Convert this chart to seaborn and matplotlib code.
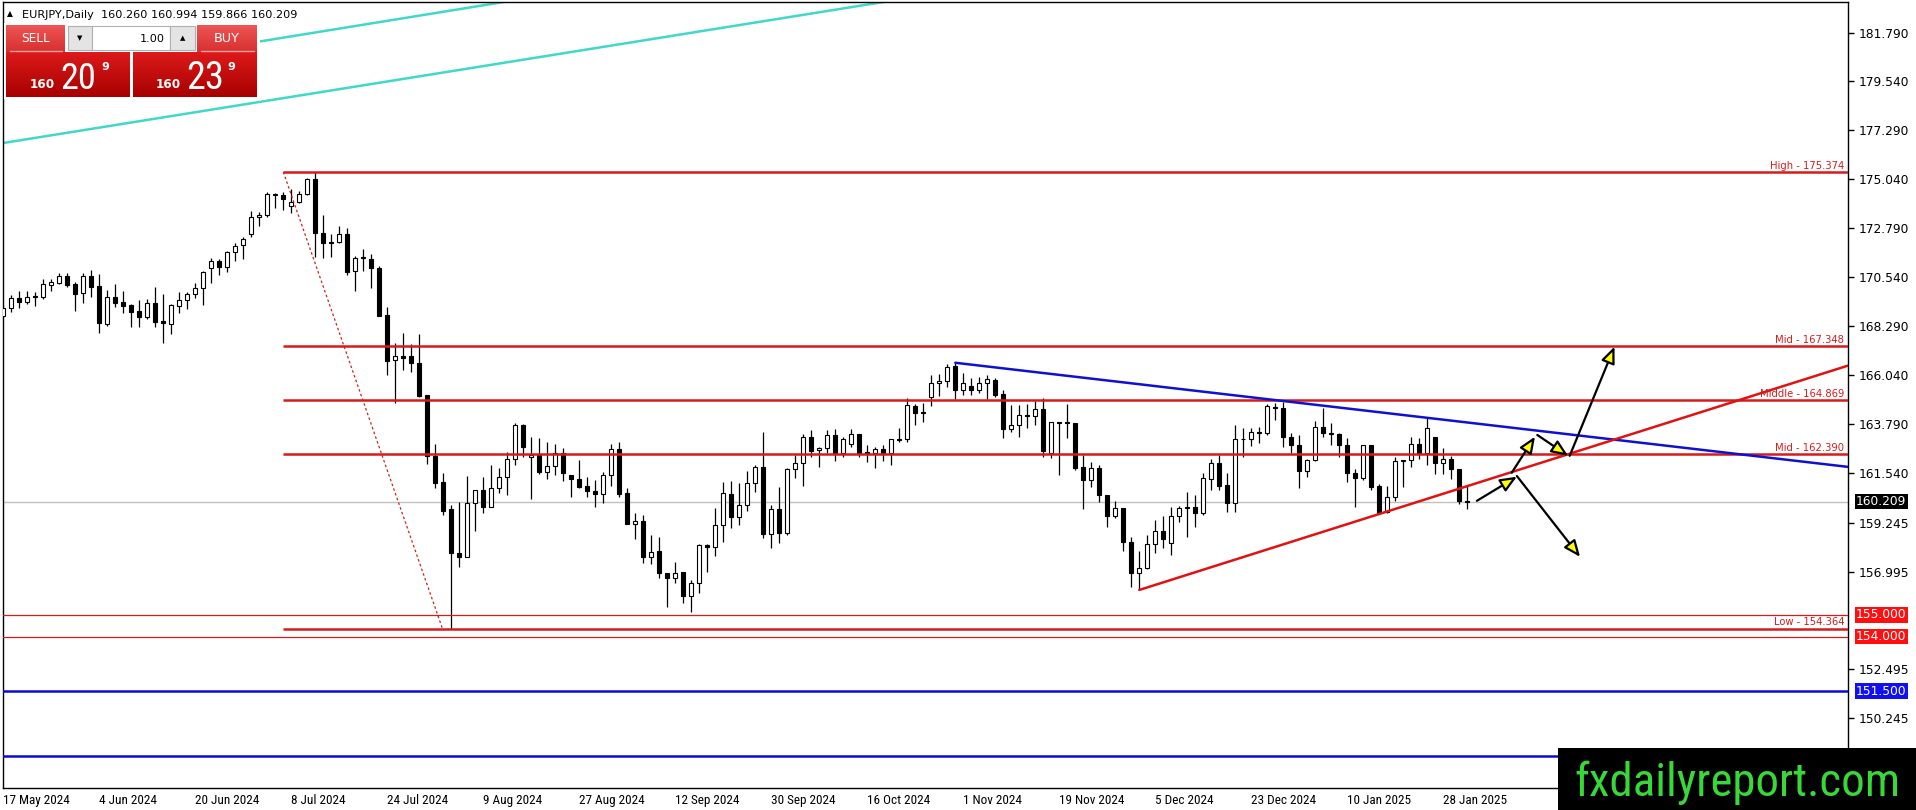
import numpy as np
import matplotlib
matplotlib.use("Agg")
import matplotlib.pyplot as plt
import matplotlib.transforms as mtransforms
from matplotlib.patches import Rectangle
from matplotlib.colors import LinearSegmentedColormap
from matplotlib import font_manager as fm
import seaborn as sns

# EURJPY daily bars, 17 May 2024 .. 31 Jan 2025
opens = [
    168.77, 169.10, 169.59, 169.41, 169.67, 169.64, 170.19, 170.28, 170.59, 170.22,
    169.79, 170.59, 170.13, 168.37, 169.64, 169.39, 169.26, 168.98, 168.69, 169.33,
    168.52, 168.38, 169.19, 169.47, 169.76, 170.04, 170.94, 171.28, 170.99, 171.68,
    172.00, 172.51, 173.32, 173.38, 174.36, 174.32, 173.81, 174.01, 174.36, 175.05,
    172.55, 172.16, 172.14, 172.52, 170.82, 171.45, 171.37, 170.97, 168.80, 166.71,
    166.90, 166.91, 166.60, 165.12, 162.31, 161.13, 159.87, 157.83, 157.68, 160.13,
    160.75, 159.98, 160.82, 161.33, 162.16, 163.74, 162.25, 162.36, 161.59, 161.86,
    162.46, 161.45, 161.24, 160.93, 160.70, 160.55, 161.42, 162.62, 160.59, 159.19,
    159.30, 157.68, 157.94, 156.91, 156.68, 156.96, 155.89, 156.45, 158.22, 158.11,
    159.12, 160.55, 159.49, 160.04, 161.05, 161.79, 158.71, 159.86, 158.78, 161.70,
    162.00, 163.17, 162.59, 162.66, 163.28, 162.43, 162.86, 163.31, 162.49, 162.46,
    162.62, 162.43, 163.06, 163.08, 164.61, 164.35, 165.01, 165.65, 165.77, 166.45,
    165.35, 165.52, 165.35, 165.65, 165.81, 165.16, 163.54, 163.72, 164.18, 164.15,
    164.46, 162.46, 163.89, 163.87, 163.81, 161.82, 161.21, 161.74, 160.52, 159.57,
    159.90, 158.34, 156.94, 157.14, 158.26, 158.86, 158.29, 159.55, 159.95, 159.98,
    159.67, 161.24, 161.97, 160.98, 160.16, 163.08, 163.08, 163.40, 163.35, 164.58,
    164.50, 163.17, 162.82, 161.64, 162.12, 163.63, 163.35, 163.32, 162.82, 161.51,
    161.28, 162.82, 160.93, 159.75, 160.44, 162.09, 162.12, 162.86, 162.46, 163.17,
    162.00, 162.16, 161.70, 160.26]
highs = [
    169.25, 169.72, 169.90, 169.90, 169.84, 170.45, 170.45, 170.74, 170.71, 170.33,
    170.71, 170.87, 170.68, 169.95, 170.22, 169.91, 169.30, 169.49, 169.52, 170.10,
    169.75, 169.30, 169.84, 169.85, 170.25, 170.82, 171.40, 171.36, 171.76, 172.09,
    172.40, 173.59, 173.55, 174.44, 174.39, 174.44, 174.58, 174.51, 175.08, 175.374,
    173.40, 172.52, 172.89, 172.78, 171.51, 171.82, 171.59, 171.05, 169.18, 167.52,
    167.95, 167.46, 167.92, 165.12, 162.86, 161.51, 160.06, 160.21, 161.39, 160.75,
    161.33, 161.90, 161.74, 162.51, 163.81, 163.78, 163.17, 163.12, 162.97, 162.86,
    162.66, 161.45, 162.13, 161.33, 161.21, 161.59, 162.86, 162.97, 160.82, 159.70,
    159.60, 158.68, 158.60, 156.94, 157.45, 156.96, 156.61, 158.26, 158.26, 159.93,
    161.13, 161.18, 161.05, 161.62, 161.90, 163.43, 160.06, 160.87, 161.74, 162.36,
    163.31, 163.51, 162.74, 163.51, 163.54, 163.20, 163.54, 163.31, 162.80, 162.74,
    162.80, 163.08, 163.58, 164.96, 164.70, 164.76, 166.04, 166.07, 166.54, 166.60,
    166.11, 165.88, 165.96, 166.04, 165.88, 165.35, 164.66, 164.66, 164.70, 164.84,
    164.96, 163.89, 163.89, 164.70, 163.81, 162.36, 162.05, 161.90, 160.52, 160.26,
    159.90, 158.57, 157.96, 158.68, 159.37, 159.55, 159.98, 160.01, 160.67, 160.52,
    161.51, 162.16, 162.36, 161.51, 163.74, 163.58, 163.58, 163.66, 164.70, 164.76,
    164.81, 163.38, 163.28, 162.19, 163.93, 164.50, 163.81, 163.38, 163.12, 161.70,
    162.82, 162.82, 161.02, 160.93, 162.25, 162.12, 163.17, 163.12, 164.04, 163.17,
    162.66, 162.31, 161.70, 160.994]
lows = [
    168.72, 168.95, 169.13, 169.30, 169.21, 169.55, 169.92, 170.22, 170.10, 168.99,
    169.36, 169.64, 167.95, 168.30, 169.15, 168.87, 168.23, 168.23, 168.60, 168.23,
    167.49, 167.92, 168.90, 169.06, 169.58, 169.27, 170.25, 170.64, 170.79, 171.30,
    171.39, 172.40, 172.91, 173.32, 173.73, 173.63, 173.47, 173.96, 174.33, 171.48,
    171.40, 171.48, 172.09, 170.64, 169.91, 170.84, 170.02, 168.77, 166.03, 164.76,
    166.27, 166.16, 165.01, 161.94, 160.82, 159.60, 154.364, 157.22, 157.65, 158.88,
    159.70, 159.95, 160.59, 160.52, 161.90, 162.25, 160.33, 161.48, 161.27, 161.44,
    161.16, 160.44, 160.82, 160.41, 159.98, 160.13, 160.93, 160.44, 159.18, 158.48,
    157.37, 157.34, 156.68, 155.38, 156.45, 155.53, 155.12, 155.99, 156.99, 157.72,
    158.37, 158.98, 159.14, 159.80, 160.67, 158.52, 158.06, 158.32, 158.67, 161.31,
    160.93, 162.25, 161.82, 162.43, 162.10, 162.25, 162.74, 162.28, 162.05, 161.77,
    162.10, 161.90, 162.97, 162.97, 163.74, 163.89, 164.61, 165.07, 165.47, 164.92,
    165.12, 165.12, 165.22, 164.92, 165.04, 163.12, 163.43, 163.17, 163.58, 163.74,
    162.25, 162.20, 161.44, 163.12, 161.67, 159.86, 160.90, 160.21, 159.03, 159.44,
    157.96, 156.30, 156.15, 157.10, 157.83, 158.06, 157.76, 159.29, 158.60, 159.06,
    159.60, 160.75, 160.75, 159.75, 159.75, 162.28, 162.77, 162.92, 163.28, 163.97,
    162.74, 162.43, 160.82, 161.33, 162.09, 163.17, 162.82, 162.28, 161.13, 159.98,
    161.21, 160.75, 159.64, 159.67, 160.26, 160.90, 161.79, 162.16, 161.90, 161.48,
    161.48, 161.24, 160.10, 159.866]
closes = [
    169.10, 169.56, 169.41, 169.62, 169.61, 170.21, 170.31, 170.59, 170.18, 169.76,
    170.59, 170.10, 168.41, 169.61, 169.36, 169.23, 168.95, 168.69, 169.33, 168.49,
    168.41, 169.24, 169.47, 169.74, 170.02, 170.79, 171.28, 170.99, 171.68, 171.99,
    172.28, 173.32, 173.40, 174.36, 174.30, 174.15, 174.01, 174.36, 175.05, 172.55,
    172.09, 172.10, 172.52, 170.79, 171.40, 171.40, 170.94, 168.77, 166.70, 166.90,
    166.84, 166.60, 165.07, 162.31, 161.08, 159.80, 157.83, 157.68, 160.13, 160.75,
    159.98, 160.82, 161.33, 162.16, 163.74, 162.71, 162.36, 161.59, 161.86, 162.46,
    161.51, 161.24, 160.90, 160.68, 160.55, 161.42, 162.62, 160.56, 159.18, 159.30,
    157.68, 157.91, 156.91, 156.68, 156.94, 155.89, 156.45, 158.22, 158.11, 159.12,
    160.59, 159.49, 160.04, 161.05, 161.79, 158.71, 159.86, 158.78, 161.70, 162.00,
    163.17, 162.55, 162.69, 163.28, 162.43, 163.08, 163.31, 162.43, 162.43, 162.62,
    162.46, 163.08, 163.08, 164.65, 164.30, 164.30, 165.65, 165.77, 166.42, 165.35,
    165.68, 165.35, 165.65, 165.84, 165.12, 163.54, 163.72, 164.18, 164.13, 164.46,
    162.56, 163.87, 163.85, 163.84, 161.77, 161.21, 161.74, 160.52, 159.57, 159.90,
    158.34, 156.94, 157.14, 158.26, 158.86, 158.51, 159.55, 159.90, 159.90, 159.67,
    161.28, 161.97, 160.93, 160.16, 163.08, 163.10, 163.40, 163.38, 164.61, 164.50,
    163.17, 162.82, 161.64, 162.12, 163.63, 163.35, 163.32, 162.82, 161.51, 161.28,
    162.82, 160.90, 159.70, 160.44, 162.08, 162.12, 162.86, 162.46, 163.58, 162.00,
    162.16, 161.70, 160.26, 160.209]

date_ticks = [0, 12, 24, 36, 48, 60, 72, 84, 96, 108, 120, 132, 144, 156, 168, 180]
date_labels = ["17 May 2024", "4 Jun 2024", "20 Jun 2024", "8 Jul 2024", "24 Jul 2024",
               "9 Aug 2024", "27 Aug 2024", "12 Sep 2024", "30 Sep 2024", "16 Oct 2024",
               "1 Nov 2024", "19 Nov 2024", "5 Dec 2024", "23 Dec 2024", "10 Jan 2025",
               "28 Jan 2025"]
price_ticks = [181.790, 179.540, 177.290, 175.040, 172.790, 170.540, 168.290, 166.040,
               163.790, 161.540, 159.245, 156.995, 152.495, 150.245]

# fibonacci levels
fib_levels = [175.374, 167.348, 164.869, 162.390, 154.364]
fib_names = ["High", "Mid", "Middle", "Mid", "Low"]
fib_start = 35
fib_diag_x = [35, 54.9]
fib_diag_y = [175.374, 154.364]

red_levels = [155.000, 154.000]
blue_levels = [151.500, 148.500]
last_price = 160.209

# trend lines (bar index, price)
blue_trend_x = [119, 230.6]
blue_trend_y = [166.60, 161.81]
red_trend_x = [142, 230.6]
red_trend_y = [156.15, 166.47]
cyan_up_x = [0, 66]
cyan_up_y = [179.47, 183.40]
cyan_low_x = [-1, 113]
cyan_low_y = [176.65, 183.37]

# scenario arrows
arrow_x0 = [184.2, 188.55, 191.75, 195.8, 189.2]
arrow_y0 = [160.25, 161.54, 163.28, 162.32, 161.39]
arrow_x1 = [189.2, 191.46, 195.6, 201.4, 197.1]
arrow_y1 = [161.36, 163.20, 162.32, 167.34, 157.67]

sns.set_style("white")
plt.rcParams["font.family"] = ["DejaVu Sans"]

# pick a narrow font if one is installed
names = {f.name for f in fm.fontManager.ttflist}
narrow = None
for cand in ["Liberation Sans Narrow", "Roboto Condensed", "Open Sans Condensed", "Noto Sans Condensed"]:
    if cand in names:
        narrow = fm.FontProperties(family=cand)
        break
if narrow is None:
    narrow = fm.FontProperties(family="DejaVu Sans", stretch="condensed")

W, H = 1916, 810
fig = plt.figure(figsize=(W / 100, H / 100), dpi=100)
fig.patch.set_facecolor("white")
ax = fig.add_axes([3 / W, 22 / H, 1845 / W, 786 / H])
r = fig.canvas.get_renderer()


def fit(t, width):
    bb = t.get_window_extent(r)
    t.set_fontsize(t.get_fontsize() * width / bb.width)


o = np.array(opens)
h = np.array(highs)
l = np.array(lows)
c = np.array(closes)
x = np.arange(len(o))
up = c >= o
bottom = np.minimum(o, c)
height = np.maximum(np.abs(c - o), 0.02)

red = "#d41c1c"

# background lines
ax.axhline(last_price, color="#c0c0c0", lw=1, zorder=1)
sns.lineplot(x=cyan_up_x, y=cyan_up_y, ax=ax, color="#40d8c8", linewidth=1.8, zorder=1)
sns.lineplot(x=cyan_low_x, y=cyan_low_y, ax=ax, color="#40d8c8", linewidth=1.8, zorder=1)

# candles
ax.vlines(x, l, h, color="black", lw=0.9, zorder=3)
ax.bar(x[up], height[up], bottom=bottom[up], width=0.52, facecolor="white",
       edgecolor="black", lw=0.8, zorder=4)
ax.bar(x[~up], height[~up], bottom=bottom[~up], width=0.52, facecolor="black",
       edgecolor="black", lw=0.8, zorder=4)

# levels
ax.hlines(fib_levels, fib_start, 240, color=red, lw=1.8, zorder=5)
sns.lineplot(x=fib_diag_x, y=fib_diag_y, ax=ax, color=red, linewidth=0.9,
             linestyle=(0, (2, 2)), zorder=5)
for lv in red_levels:
    ax.axhline(lv, color=red, lw=0.9, zorder=5)
for lv in blue_levels:
    ax.axhline(lv, color="#0a0ad0", lw=1.8, zorder=5)

sns.lineplot(x=blue_trend_x, y=blue_trend_y, ax=ax, color="#1010d0", linewidth=1.8, zorder=5)
sns.lineplot(x=red_trend_x, y=red_trend_y, ax=ax, color="#e01212", linewidth=1.8, zorder=5)

for x0, y0, x1, y1 in zip(arrow_x0, arrow_y0, arrow_x1, arrow_y1):
    ax.annotate("", xy=(x1, y1), xytext=(x0, y0), zorder=7,
                arrowprops=dict(arrowstyle="-|>,head_length=1.0,head_width=0.42",
                                fc="#ffff00", ec="black", lw=1.6, shrinkA=0, shrinkB=0,
                                mutation_scale=10))

ax.set_xlim(-0.04, 230.59)
ax.set_ylim(147.04, 183.194)

# fib labels
blend = mtransforms.blended_transform_factory(ax.transAxes, ax.transData)
lab_tr = mtransforms.offset_copy(blend, fig=fig, x=-4, y=1.5, units="dots")
fib_texts = []
for lv, nm in zip(fib_levels, fib_names):
    t = ax.text(1.0, lv, f"{nm} - {lv:.3f}", transform=lab_tr, ha="right", va="bottom",
                color=red, fontsize=7.5, zorder=8)
    fib_texts.append(t)
bb = fib_texts[0].get_window_extent(r)
fs = 7.5 * 74 / bb.width
for t in fib_texts:
    t.set_fontsize(fs)

# axes styling
for s in ax.spines.values():
    s.set_color("black")
    s.set_linewidth(1)
ax.yaxis.tick_right()
ax.set_yticks(price_ticks)
ax.set_yticklabels([f"{v:.3f}" for v in price_ticks])
ax.tick_params(axis="y", length=4, width=1, pad=4, labelsize=8.8, colors="black")

tmp = ax.text(0, 0, date_labels[0], fontproperties=narrow, fontsize=10)
date_fs = 10 * 67 / tmp.get_window_extent(r).width
tmp.remove()
ax.set_xticks(date_ticks)
ax.set_xticklabels(date_labels, fontproperties=narrow, fontsize=date_fs, ha="left")
ax.tick_params(axis="x", length=3, width=1, pad=1.5, colors="black")
ax.set_xlabel("")
ax.set_ylabel("")
ax.grid(False)

# price boxes on the axis
box_tr = mtransforms.offset_copy(blend, fig=fig, x=8, units="dots")
for val, col in [(last_price, "black"), (155.0, "#ff1010"), (154.0, "#ff1010"), (151.5, "#1010f0")]:
    ax.text(1.0, val, f"{val:.3f}", transform=box_tr, ha="left", va="center", color="white",
            fontsize=8.8, clip_on=False, zorder=9,
            bbox=dict(boxstyle="square,pad=0.1", fc=col, ec="none"))

# overlay in pixel coords for the trading panel and watermark
ov = fig.add_axes([0, 0, 1, 1], zorder=10)
ov.patch.set_alpha(0)
ov.axis("off")


def grad_box(x0, y0, w, hgt, top, bot):
    cm = LinearSegmentedColormap.from_list("g", [top, bot])
    ov.imshow(np.linspace(0, 1, 32).reshape(-1, 1), extent=(x0, x0 + w, y0 + hgt, y0),
              cmap=cm, aspect="auto", interpolation="bilinear", zorder=1)


ov.add_patch(Rectangle((4, 23), 256, 76, fc="white", ec="none", zorder=0.5))
grad_box(6, 25, 59, 27, "#ee5555", "#d83030")
grad_box(197, 25, 60, 27, "#ee5555", "#d83030")
ov.plot([10, 62], [50.5, 50.5], color="#f4a0a0", lw=1, zorder=2)
ov.plot([201, 254], [50.5, 50.5], color="#f4a0a0", lw=1, zorder=2)
grad_box(6, 52, 124, 45, "#dc1a1a", "#a80000")
grad_box(133, 52, 124, 45, "#dc1a1a", "#a80000")
ov.add_patch(Rectangle((68, 26), 24, 24, fc="#e4e4e4", ec="#b0b0b0", lw=0.8, zorder=2))
ov.add_patch(Rectangle((92, 26), 78, 24, fc="white", ec="#b0b0b0", lw=0.8, zorder=2))
ov.add_patch(Rectangle((170, 26), 25, 24, fc="#e4e4e4", ec="#b0b0b0", lw=0.8, zorder=2))
ov.text(80, 38.5, "▼", ha="center", va="center", fontsize=5, color="black", zorder=3)
ov.text(182.5, 38.5, "▲", ha="center", va="center", fontsize=5, color="black", zorder=3)

t = ov.text(35.5, 39, "SELL", ha="center", va="center", color="white", fontsize=9, zorder=3)
fit(t, 29)
t = ov.text(227, 39, "BUY", ha="center", va="center", color="white", fontsize=9, zorder=3)
fit(t, 26)
t = ov.text(165, 38.5, "1.00", ha="right", va="center", color="black", fontsize=9, zorder=3)
fit(t, 25)

for bx, big, bw in [(0, "20", 36), (126, "23", 38)]:
    t = ov.text(30 + bx, 88, "160", ha="left", va="baseline", color="white",
                fontsize=10, fontweight="bold", zorder=3)
    fit(t, 25)
    t = ov.text(60 + bx, 89, big, ha="left", va="baseline", color="white",
                fontproperties=narrow, fontsize=20, zorder=3)
    fit(t, bw)
    t = ov.text(101 + bx, 70, "9", ha="left", va="baseline", color="white",
                fontsize=8, fontweight="bold", zorder=3)
    fit(t, 8)

ov.text(7, 13.5, "▲", ha="left", va="center", fontsize=5.5, color="black", zorder=3)
t = ov.text(22, 17.5, "EURJPY,Daily  160.260 160.994 159.866 160.209", ha="left",
            va="baseline", color="black", fontsize=8, zorder=3)
fit(t, 276)

# watermark
ov.add_patch(Rectangle((1558, 748), 358, 62, fc="black", ec="none", zorder=4))
t = ov.text(1574, 796, "fxdailyreport.com", ha="left", va="baseline", color="#38d838",
            fontproperties=narrow, fontsize=30, zorder=5)
fit(t, 326)

ov.set_xlim(0, W)
ov.set_ylim(H, 0)

fig.savefig("out.png", dpi=100)
